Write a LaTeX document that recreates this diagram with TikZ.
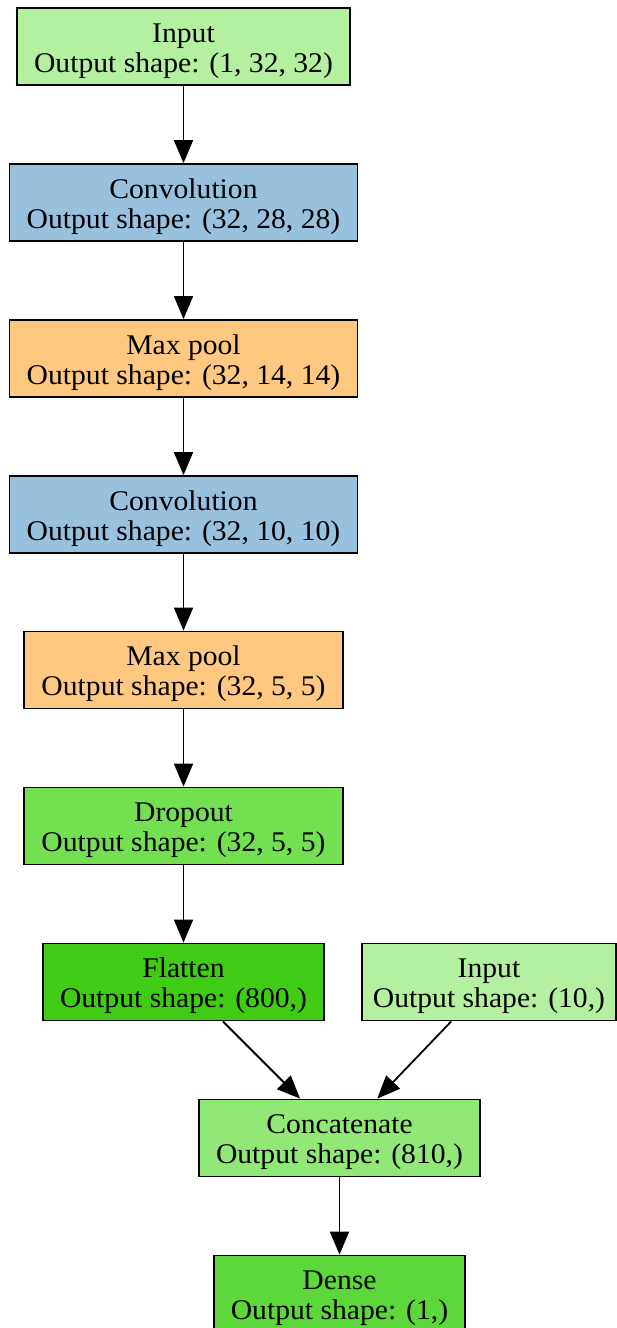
\documentclass[tikz,border=0pt]{standalone}
\usepackage{fontspec}
\setmainfont[FakeStretch=1.04]{Liberation Serif}
\usetikzlibrary{arrows.meta}
\definecolor{inputc}{HTML}{B3F0A0}
\definecolor{convc}{HTML}{97C1DD}
\definecolor{poolc}{HTML}{FFC880}
\definecolor{dropc}{HTML}{72E050}
\definecolor{flatc}{HTML}{40CC14}
\definecolor{concc}{HTML}{92E877}
\definecolor{densc}{HTML}{5CD83A}
% uniform height for the first text line of every layer box
\newcommand{\firstline}{\rule{0pt}{28pt}}
\tikzset{
  layer/.style={draw=black, line width=1.8pt, rectangle, minimum height=77pt,
    inner sep=0pt, align=center, font=\fontsize{28.5}{30}\selectfont},
  flow/.style={draw=black, line width=1.8pt,
    -{Triangle[length=23pt,width=19pt]}}
}
\begin{document}
\begin{tikzpicture}[x=1pt,y=-1pt]
\useasboundingbox (0,0) rectangle (617,1328);
\node[layer, fill=inputc, minimum width=333pt] (in1) at (183.5,46.5) {\firstline Input\\Output shape: (1, 32, 32)};
\node[layer, fill=convc, minimum width=348pt] (conv1) at (183.5,202.5) {\firstline Convolution\\Output shape: (32, 28, 28)};
\node[layer, fill=poolc, minimum width=348pt] (pool1) at (183.5,358.5) {\firstline Max pool\\Output shape: (32, 14, 14)};
\node[layer, fill=convc, minimum width=348pt] (conv2) at (183.5,514.5) {\firstline Convolution\\Output shape: (32, 10, 10)};
\node[layer, fill=poolc, minimum width=319pt] (pool2) at (183.5,670) {\firstline Max pool\\Output shape: (32, 5, 5)};
\node[layer, fill=dropc, minimum width=319pt] (drop) at (183.5,826) {\firstline Dropout\\Output shape: (32, 5, 5)};
\node[layer, fill=flatc, minimum width=281pt] (flat) at (183.5,982) {\firstline Flatten\\Output shape: (800,)};
\node[layer, fill=inputc, minimum width=254pt] (in2) at (489,982) {\firstline Input\\Output shape: (10,)};
\node[layer, fill=concc, minimum width=281pt] (conc) at (339.5,1138) {\firstline Concatenate\\Output shape: (810,)};
\node[layer, fill=densc, minimum width=251pt] (dense) at (339.5,1294) {\firstline Dense\\Output shape: (1,)};
\draw[flow] (in1) -- (conv1);
\draw[flow] (conv1) -- (pool1);
\draw[flow] (pool1) -- (conv2);
\draw[flow] (conv2) -- (pool2);
\draw[flow] (pool2) -- (drop);
\draw[flow] (drop) -- (flat);
\draw[flow] (flat) -- (conc);
\draw[flow] (in2) -- (conc);
\draw[flow] (conc) -- (dense);
\end{tikzpicture}
\end{document}
